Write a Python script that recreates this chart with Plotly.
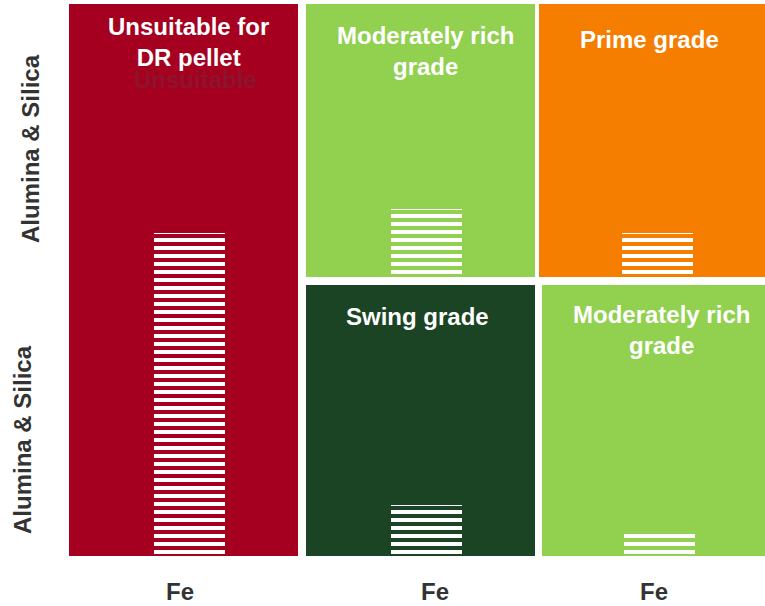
import plotly.graph_objects as go

# ---------------- data ----------------
cell_labels = ["Unsuitable for<br>DR pellet", "Moderately rich<br>grade", "Prime grade",
               "Swing grade", "Moderately rich<br>grade"]
cell_cols = [0, 1, 2, 1, 2]          # column index of each cell
cell_rows = ["both", "top", "top", "bottom", "bottom"]
stripe_values = [1.168, 0.246, 0.159, 0.184, 0.087]   # striped bar heights (row units)
cell_colors = ["#A5001F", "#92D050", "#F57D00", "#1A4424", "#92D050"]
x_labels = ["Fe", "Fe", "Fe"]
y_labels = ["Alumina & Silica", "Alumina & Silica"]
ghost_label = "Unsuitable"

# ---------------- layout helpers ----------------
W, H = 765, 606
ML, MR, MT, MB = 69, 0, 4, 49
PW, PH = W - ML - MR, H - MT - MB
PXX = PW / 3.0      # px per x unit
PXY = PH / 2.0      # px per y unit

def X(px):
    return (px - ML) / PXX

def Y(px):
    return (H - MB - px) / PXY

def XP(px):
    return (px - ML) / PW

def YP(px):
    return (H - MB - px) / PH

col_edges = [(X(69), X(298)), (X(306), X(535)), (X(539), X(765))]
col_edges_bottom = {2: (X(542), X(765))}
row_edges = {"bottom": (Y(556), Y(285)), "top": (Y(277), Y(4)), "both": (Y(556), Y(4))}
stripe_w = 71 / PXX
stripe_dx = 0.025

fig = go.Figure()
FONT = "Liberation Sans, Arial, sans-serif"

for i, (c, r) in enumerate(zip(cell_cols, cell_rows)):
    x0, x1 = col_edges[c]
    if r == "bottom" and c in col_edges_bottom:
        x0, x1 = col_edges_bottom[c]
    y0, y1 = row_edges[r]
    xc = (x0 + x1) / 2
    # cell background
    fig.add_trace(go.Bar(x=[xc], y=[y1 - y0], base=[y0], width=[x1 - x0],
                         marker=dict(color=cell_colors[i], line=dict(width=0)),
                         hoverinfo="skip", showlegend=False))
    # striped bar
    fig.add_trace(go.Bar(x=[xc + stripe_dx], y=[stripe_values[i]], base=[y0], width=[stripe_w],
                         marker=dict(color=cell_colors[i], line=dict(width=0),
                                     pattern=dict(shape="-", fgcolor="white",
                                                  bgcolor=cell_colors[i], size=8,
                                                  solidity=0.5, fillmode="replace")),
                         hoverinfo="skip", showlegend=False))

# cell labels
label_pos = [(188.5, 42), (425, 51), (649, 39), (417, 316), (661, 330)]
for lab, (px, py) in zip(cell_labels, label_pos):
    fig.add_annotation(xref="paper", yref="paper", x=XP(px), y=YP(py), text=lab,
                       showarrow=False, xanchor="center", yanchor="middle",
                       font=dict(family=FONT, size=24, color="white", weight="bold"))

fig.add_annotation(xref="paper", yref="paper", x=XP(195), y=YP(79), text=ghost_label,
                   showarrow=False, xanchor="center", yanchor="middle",
                   font=dict(family=FONT, size=24, color="rgba(100,60,70,0.35)", weight="bold"))

# axis-like labels
fe_pos = [(180, 592), (435, 592), (654, 592)]
for lab, (px, py) in zip(x_labels, fe_pos):
    fig.add_annotation(xref="paper", yref="paper", x=XP(px), y=YP(py), text=lab,
                       showarrow=False, xanchor="center", yanchor="middle",
                       font=dict(family=FONT, size=24, color="#333333", weight="bold"))

al_pos = [(30, 149), (22, 440)]
for lab, (px, py) in zip(y_labels, al_pos):
    fig.add_annotation(xref="paper", yref="paper", x=XP(px), y=YP(py), text=lab,
                       showarrow=False, textangle=-90, xanchor="center", yanchor="middle",
                       font=dict(family=FONT, size=24, color="#333333", weight="bold"))

fig.update_layout(
    width=W, height=H,
    margin=dict(l=ML, r=MR, t=MT, b=MB, pad=0),
    barmode="overlay", bargap=0,
    plot_bgcolor="white", paper_bgcolor="white",
    xaxis=dict(range=[0, 3], visible=False, fixedrange=True),
    yaxis=dict(range=[0, 2], visible=False, fixedrange=True),
    showlegend=False,
)

fig.write_html("out.html", config={"displayModeBar": False},
               post_script="document.body.style.margin='0';document.body.style.overflow='hidden';")
